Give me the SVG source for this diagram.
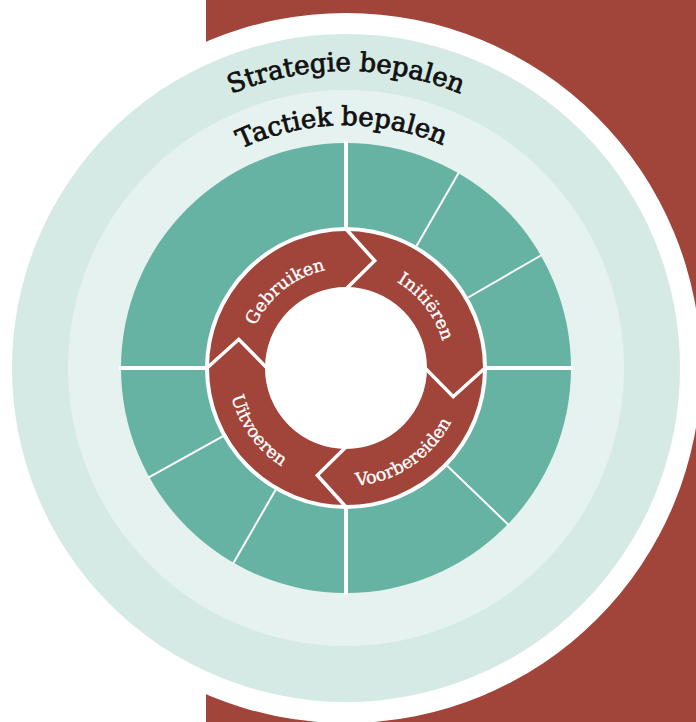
<svg xmlns="http://www.w3.org/2000/svg" xmlns:xlink="http://www.w3.org/1999/xlink" width="696" height="722" viewBox="0 0 696 722">
<style>
.title{font-family:"DejaVu Serif","Liberation Serif",serif;font-size:26px;fill:#111;stroke:#111;stroke-width:0.8}
.phase{font-family:"DejaVu Serif","Liberation Serif",serif;font-size:17.5px;fill:#ffffff;stroke:#ffffff;stroke-width:0.35}
.div{stroke:#ffffff;stroke-width:2}
.axis{stroke:#ffffff;stroke-width:4}
.chev{fill:none;stroke:#ffffff;stroke-width:3.5;stroke-linejoin:miter}
</style>
<defs>
<path id="arcStrategie" d="M53.5,316.4 A297,297 0 0 1 638.5,316.4"/>
<path id="arcTactiek" d="M106,330 A243,243 0 0 1 584.5,321.6"/>
<path id="arcGebruiken" d="M247.1,382.8 A100,100 0 0 1 382.7,275"/>
<path id="arcInitieren" d="M332.9,268.9 A100,100 0 0 1 438.4,406.3"/>
<path id="arcVoorbereiden" d="M292.3,473.1 A118,118 0 0 0 463.7,357.8"/>
<path id="arcUitvoeren" d="M239.1,318.4 A117,117 0 0 0 358.2,484.4"/>
</defs>
<g id="background">
<rect x="206" y="0" width="490" height="722" fill="#a1453b"/>
<circle cx="346" cy="368" r="355" fill="#ffffff"/>
</g>
<g id="strategie">
<circle cx="346" cy="368" r="334" fill="#d5eae4"/>
<text class="title"><textPath xlink:href="#arcStrategie" startOffset="50%" text-anchor="middle">Strategie bepalen</textPath></text>
</g>
<g id="tactiek">
<circle cx="346" cy="368" r="278" fill="#e5f2ef"/>
<text class="title"><textPath xlink:href="#arcTactiek" startOffset="50%" text-anchor="middle">Tactiek bepalen</textPath></text>
</g>
<g id="segments">
<circle cx="346" cy="368" r="225" fill="#66b3a4"/>
</g>
<g id="connectors">
<line class="axis" x1="346" y1="141" x2="346" y2="595"/>
<line class="axis" x1="119" y1="368" x2="573" y2="368"/>
<line class="div" x1="346" y1="227" x2="346" y2="142" transform="rotate(30 346 368)"/>
<line class="div" x1="346" y1="227" x2="346" y2="142" transform="rotate(60 346 368)"/>
<line class="div" x1="346" y1="227" x2="346" y2="142" transform="rotate(134 346 368)"/>
<line class="div" x1="346" y1="227" x2="346" y2="142" transform="rotate(210 346 368)"/>
<line class="div" x1="346" y1="227" x2="346" y2="142" transform="rotate(241 346 368)"/>
</g>
<g id="cycle">
<circle cx="346" cy="368" r="141" fill="#ffffff"/>
<circle cx="346" cy="368" r="109" fill="none" stroke="#a1453b" stroke-width="56"/>
<path class="chev" d="M346,229 L374.7,260.8 L346,289"/>
<path class="chev" d="M346,229 L374.7,260.8 L346,289" transform="rotate(90 346 368)"/>
<path class="chev" d="M346,229 L374.7,260.8 L346,289" transform="rotate(180 346 368)"/>
<path class="chev" d="M346,229 L374.7,260.8 L346,289" transform="rotate(270 346 368)"/>
</g>
<g id="gebruiken"><text class="phase"><textPath xlink:href="#arcGebruiken" startOffset="50%" text-anchor="middle">Gebruiken</textPath></text></g>
<g id="initieren"><text class="phase"><textPath xlink:href="#arcInitieren" startOffset="50%" text-anchor="middle">Initiëren</textPath></text></g>
<g id="voorbereiden"><text class="phase"><textPath xlink:href="#arcVoorbereiden" startOffset="50%" text-anchor="middle">Voorbereiden</textPath></text></g>
<g id="uitvoeren"><text class="phase"><textPath xlink:href="#arcUitvoeren" startOffset="50%" text-anchor="middle">Uitvoeren</textPath></text></g>
</svg>
